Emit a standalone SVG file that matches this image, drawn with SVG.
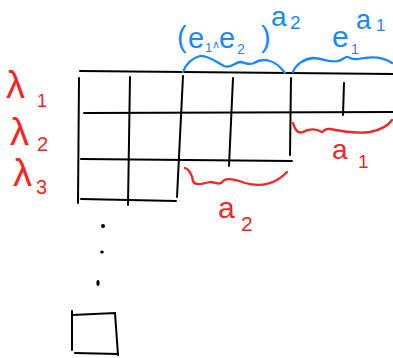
<svg xmlns="http://www.w3.org/2000/svg" width="393" height="358" viewBox="0 0 393 358">
<style>
.k{fill:none;stroke:#000;stroke-width:2;stroke-linecap:round}
.b{fill:none;stroke:#1a88f8;stroke-width:2.3;stroke-linecap:round;stroke-linejoin:round}
.r{fill:none;stroke:#f52525;stroke-width:2.3;stroke-linecap:round;stroke-linejoin:round}
.bt{fill:#1a88f8;font-family:"Liberation Sans",Arial,sans-serif}
.rt{fill:#f52525;font-family:"Liberation Sans",Arial,sans-serif}
</style>
<rect width="393" height="358" fill="#fff"/>
<g id="grid">
<path class="k" d="M80 71 L393 74"/>
<path class="k" d="M84 113 L393 112"/>
<path class="k" d="M81 159 L292 161"/>
<path class="k" d="M81 199 L176 201"/>
<path class="k" d="M79 78 L78 203"/>
<path class="k" d="M130 77 L128 205"/>
<path class="k" d="M183 76 L177 197"/>
<path class="k" d="M233 78 L229 166"/>
<path class="k" d="M291 78 L290 155"/>
<path class="k" d="M344 83 L343 115"/>
</g>
<g id="dots" fill="#000">
<ellipse cx="103" cy="226" rx="2" ry="2"/>
<ellipse cx="102" cy="252" rx="1.8" ry="1.5"/>
<ellipse cx="98" cy="283" rx="1.6" ry="3"/>
</g>
<g id="box">
<path class="k" d="M72 311 L72 350 M72 315 L115 313 L118 355 M75 353 L118 354"/>
</g>
<g id="braces">
<path class="b" d="M183 72 C186 64 192 58 200 56 C208 55 216 62 224 66 C230 69 234 63 240 62 C245 62 248 66 254 63 C262 58 274 58 285 73"/>
<path class="b" d="M293 72 C296 64 304 59 313 58 C322 58 330 63 338 61 C343 60 345 56 348 57 C351 58 352 60 358 59 C367 57 381 55 392 63"/>
<path class="r" d="M293 123 C295 130 298 134 303 132 C308 129 316 128 322 132 C324 131 325 128 330 129 C340 131 355 134 370 132 C380 130 388 126 392 120"/>
<path class="r" d="M185 168 C189 169 192 175 193 181 C195 186 202 184 210 182 C216 182 220 186 223 181 C226 178 234 179 245 183 C256 186 268 185 277 180 C282 177 285 174 287 172"/>
</g>
<g id="labels">
<text class="bt" x="177" y="47" font-size="29">(</text>
<text class="bt" x="188" y="48" font-size="29">e</text>
<text class="bt" x="205" y="52" font-size="13">1</text>
<text class="bt" x="211.5" y="48" font-size="11">∧</text>
<text class="bt" x="219" y="48" font-size="29">e</text>
<text class="bt" x="237" y="54" font-size="14">2</text>
<text class="bt" x="261" y="47" font-size="29">)</text>
<text class="bt" x="271" y="26" font-size="28">a</text>
<text class="bt" x="290" y="29" font-size="19">2</text>
<text class="bt" x="332" y="47" font-size="30">e</text>
<text class="bt" x="351" y="54" font-size="14">1</text>
<text class="bt" x="356" y="29" font-size="27">a</text>
<text class="bt" x="376" y="31" font-size="17">1</text>
<text class="rt" x="6" y="98" font-size="38">λ</text>
<text class="rt" x="37" y="107" font-size="18">1</text>
<text class="rt" x="10" y="145" font-size="38">λ</text>
<text class="rt" x="37" y="151" font-size="20">2</text>
<text class="rt" x="13" y="186" font-size="38">λ</text>
<text class="rt" x="36" y="194" font-size="20">3</text>
<text class="rt" x="332" y="159" font-size="28">a</text>
<text class="rt" x="358" y="168" font-size="19">1</text>
<text class="rt" x="218" y="218" font-size="30">a</text>
<text class="rt" x="241" y="231" font-size="21">2</text>
</g>
</svg>
